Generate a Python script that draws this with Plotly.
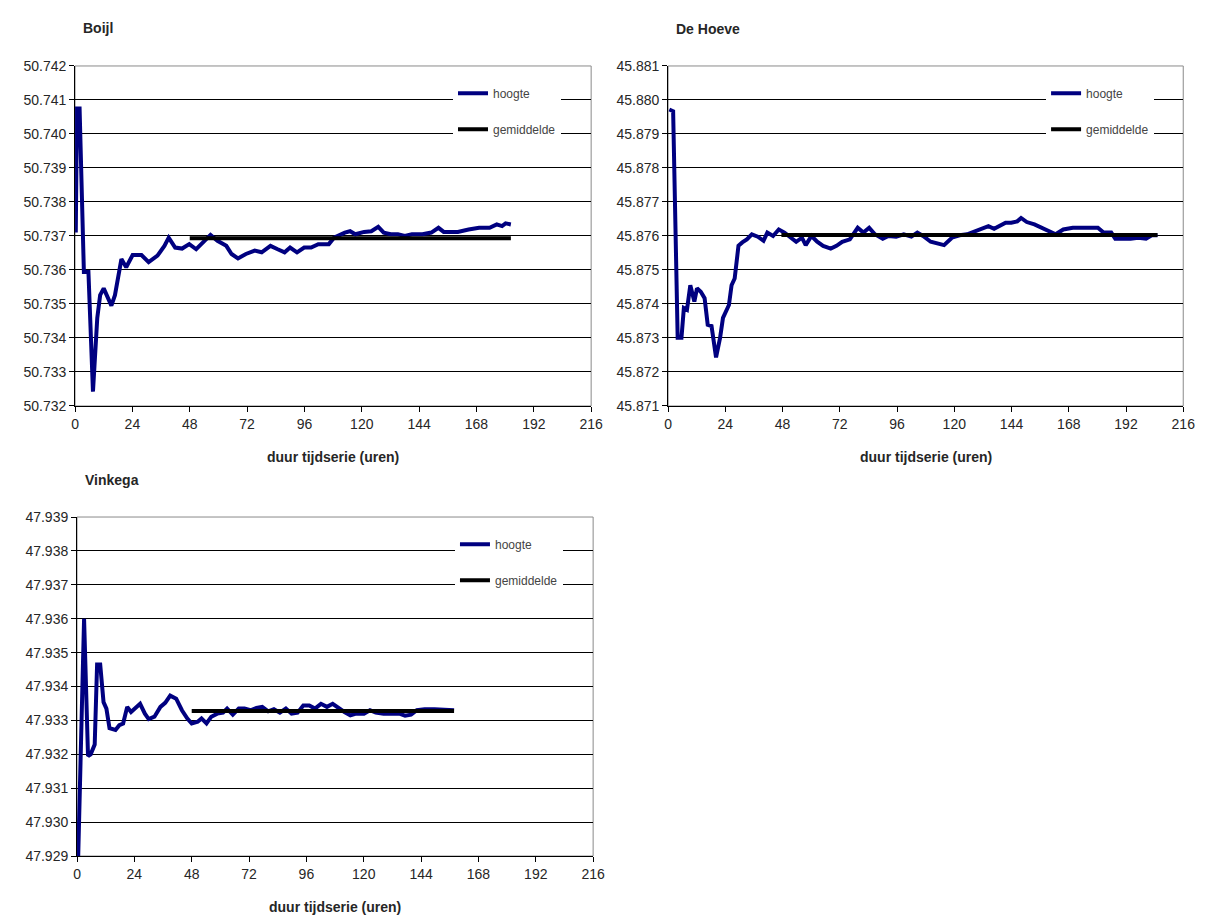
import plotly.graph_objects as go

# ---------------- data ----------------
boijl_hours = [0.3, 0.8, 1.9, 3.7, 5.6, 7.5, 9.3, 10.5, 12.0, 13.5, 15.2, 16.7, 19.4, 21.4, 24.1, 27.8,
               30.8, 34.5, 37.4, 39.2, 41.9, 44.8, 47.8, 50.7, 53.7, 56.7, 59.6, 63.3, 65.5, 68.2, 71.5,
               75.2, 78.1, 81.8, 84.8, 87.7, 90.0, 92.9, 95.9, 98.8, 101.8, 106.2, 108.4, 112.9, 115.1,
               117.3, 121.0, 124.0, 126.9, 129.2, 132.1, 135.1, 138.0, 141.0, 145.4, 149.1, 152.1, 154.3,
               157.3, 160.2, 164.7, 169.1, 173.5, 176.5, 178.7, 180.2, 182.4]
boijl_hoogte = [50.73710, 50.74075, 50.74075, 50.73594, 50.73594, 50.73242, 50.73459, 50.73526, 50.73546,
                50.73521, 50.73495, 50.73526, 50.73632, 50.73608, 50.73644, 50.73644, 50.73623, 50.73642,
                50.73671, 50.73695, 50.73666, 50.73663, 50.73676, 50.73661, 50.73681, 50.73703, 50.73686,
                50.73671, 50.73647, 50.73634, 50.73647, 50.73657, 50.73652, 50.73671, 50.73661, 50.73652,
                50.73666, 50.73652, 50.73666, 50.73666, 50.73676, 50.73676, 50.73695, 50.73710, 50.73714,
                50.73705, 50.73712, 50.73714, 50.73727, 50.73710, 50.73705, 50.73705, 50.73700, 50.73705,
                50.73705, 50.73710, 50.73724, 50.73712, 50.73712, 50.73712, 50.73719, 50.73724, 50.73724,
                50.73734, 50.73729, 50.73737, 50.73734]
boijl_mean_hours = [48.0, 182.4]
boijl_mean = [50.73693, 50.73693]

hoeve_hours = [0.5, 2.1, 4.0, 5.6, 6.6, 7.9, 9.3, 11.0, 12.1, 13.7, 15.3, 16.6, 18.2, 20.1, 21.8, 23.0,
               25.5, 26.6, 27.9, 29.5, 31.1, 33.0, 35.1, 37.6, 40.0, 41.6, 44.0, 46.4, 48.8, 51.3, 53.7,
               56.1, 57.7, 60.1, 62.5, 65.0, 68.2, 70.6, 73.0, 76.2, 79.5, 81.9, 84.3, 86.7, 90.0, 92.4,
               95.6, 98.8, 102.0, 104.5, 106.9, 110.1, 112.5, 115.7, 119.0, 122.2, 125.4, 128.6, 131.0,
               134.3, 136.7, 139.1, 141.5, 143.9, 146.4, 148.0, 150.4, 153.6, 156.8, 160.1, 162.5, 165.7,
               169.7, 174.6, 180.2, 182.6, 185.8, 187.5, 190.7, 193.9, 197.1, 200.4, 202.8, 205.2]
hoeve_hoogte = [45.87972, 45.87967, 45.87301, 45.87301, 45.87388, 45.87383, 45.87455, 45.87407, 45.87446,
                45.87436, 45.87417, 45.87339, 45.87335, 45.87243, 45.87301, 45.87359, 45.87397, 45.87455,
                45.87475, 45.87571, 45.87581, 45.87590, 45.87605, 45.87598, 45.87586, 45.87610, 45.87600,
                45.87619, 45.87610, 45.87598, 45.87583, 45.87595, 45.87573, 45.87600, 45.87583, 45.87571,
                45.87563, 45.87571, 45.87583, 45.87590, 45.87624, 45.87610, 45.87624, 45.87605, 45.87592,
                45.87600, 45.87598, 45.87605, 45.87598, 45.87610, 45.87600, 45.87583, 45.87579, 45.87573,
                45.87595, 45.87602, 45.87605, 45.87614, 45.87619, 45.87629, 45.87621, 45.87629, 45.87639,
                45.87639, 45.87643, 45.87653, 45.87641, 45.87634, 45.87624, 45.87614, 45.87605, 45.87619,
                45.87624, 45.87624, 45.87624, 45.87610, 45.87610, 45.87592, 45.87592, 45.87592, 45.87595,
                45.87592, 45.87602, 45.87602]
hoeve_mean_hours = [47.5, 205.2]
hoeve_mean = [45.87603, 45.87603]

vink_hours = [0.5, 2.95, 4.6, 5.7, 7.4, 8.4, 9.7, 11.1, 12.3, 13.6, 16.1, 17.7, 19.3, 21.0, 22.6, 24.3,
              26.4, 28.4, 30.0, 32.4, 34.9, 36.9, 39.0, 41.5, 43.9, 46.1, 48.0, 50.5, 52.1, 54.2, 56.2,
              58.7, 61.1, 62.8, 65.2, 67.7, 70.1, 72.6, 75.1, 77.5, 80.0, 82.4, 84.9, 87.4, 89.8, 92.3,
              94.7, 97.2, 99.6, 102.1, 104.6, 107.0, 109.5, 111.9, 114.4, 116.8, 120.1, 122.6, 125.0,
              128.3, 131.6, 134.9, 137.3, 139.8, 142.2, 145.5, 149.6, 153.7, 157.8]
vink_hoogte = [47.92900, 47.93600, 47.93195, 47.93200, 47.93229, 47.93465, 47.93465, 47.93354, 47.93335,
               47.93277, 47.93272, 47.93286, 47.93291, 47.93340, 47.93325, 47.93335, 47.93349, 47.93320,
               47.93304, 47.93311, 47.93340, 47.93352, 47.93373, 47.93364, 47.93330, 47.93306, 47.93291,
               47.93296, 47.93306, 47.93291, 47.93311, 47.93320, 47.93323, 47.93335, 47.93317, 47.93335,
               47.93335, 47.93330, 47.93337, 47.93340, 47.93327, 47.93333, 47.93323, 47.93335, 47.93320,
               47.93323, 47.93344, 47.93344, 47.93335, 47.93349, 47.93340, 47.93349, 47.93335, 47.93325,
               47.93315, 47.93320, 47.93320, 47.93330, 47.93323, 47.93320, 47.93320, 47.93320, 47.93314,
               47.93317, 47.93330, 47.93333, 47.93333, 47.93332, 47.93330]
vink_mean_hours = [48.0, 157.8]
vink_mean = [47.93328, 47.93328]

panel_titles = ["Boijl", "De Hoeve", "Vinkega"]
x_title = "duur tijdserie (uren)"
series_names = ["hoogte", "gemiddelde"]
x_ticks = [0, 24, 48, 72, 96, 120, 144, 168, 192, 216]
y_ranges = [(50.732, 50.742), (45.871, 45.881), (47.929, 47.939)]

# ---------------- layout geometry ----------------
W, H = 1213, 923
FONT = "Liberation Sans, Arial, sans-serif"
TXT = "#262626"
BLUE = "#000080"

panels = [
    dict(x0=72, x1=595, y0=59, y1=405, ty=20),
    dict(x0=673, x1=1195, y0=59, y1=405, ty=21),
    dict(x0=74, x1=597, y0=518, y1=863, ty=480),
]
data_sets = [
    (boijl_hours, boijl_hoogte, boijl_mean_hours, boijl_mean),
    (hoeve_hours, hoeve_hoogte, hoeve_mean_hours, hoeve_mean),
    (vink_hours, vink_hoogte, vink_mean_hours, vink_mean),
]

fig = go.Figure()
layout = dict(width=W, height=H, margin=dict(l=0, r=0, t=0, b=0),
              paper_bgcolor="white", plot_bgcolor="white",
              font=dict(family=FONT, color=TXT), showlegend=True)
shapes, annotations = [], []

for i, (p, ds, yr, title) in enumerate(zip(panels, data_sets, y_ranges, panel_titles)):
    n = "" if i == 0 else str(i + 1)
    xa, ya = "x" + n, "y" + n
    leg = "legend" + n
    hrs, val, mh, mv = ds
    fig.add_trace(go.Scatter(x=hrs, y=val, mode="lines", name=series_names[0],
                             line=dict(color=BLUE, width=4), xaxis=xa, yaxis=ya,
                             legend=leg, legendgroup="a" + n))
    fig.add_trace(go.Scatter(x=mh, y=mv, mode="lines", name=series_names[1],
                             line=dict(color="black", width=4), xaxis=xa, yaxis=ya,
                             legend=leg, legendgroup="b" + n))
    xdom = [p["x0"] / W, p["x1"] / W]
    ydom = [1 - p["y1"] / H, 1 - p["y0"] / H]
    layout["xaxis" + n] = dict(domain=xdom, range=[0, 216], tickvals=x_ticks, anchor=ya,
                               showgrid=False, zeroline=False, showline=True, linecolor="black",
                               linewidth=1, ticks="outside", ticklen=5, tickcolor="black",
                               tickfont=dict(size=14, family=FONT, color=TXT))
    layout["yaxis" + n] = dict(domain=ydom, range=list(yr), dtick=0.001, tick0=yr[0], anchor=xa,
                               tickformat=".3f", showgrid=True, gridcolor="black", gridwidth=1,
                               zeroline=False, showline=True, linecolor="black", linewidth=1,
                               ticks="outside", ticklen=5, tickcolor="black",
                               tickfont=dict(size=14, family=FONT, color=TXT))
    shapes.append(dict(type="rect", xref=xa + " domain", yref=ya + " domain", x0=0, x1=1, y0=0, y1=1,
                       line=dict(color="#8a8a8a", width=1), layer="below"))
    # legend inside top right
    layout[leg] = dict(x=(p["x0"] + 383) / W, y=1 - (p["y0"] + 13) / H, xanchor="left", yanchor="top",
                       bgcolor="white", borderwidth=0, itemwidth=30, tracegroupgap=17,
                       entrywidth=100, entrywidthmode="pixels",
                       font=dict(size=12, family=FONT, color="#444"))
    # panel title
    annotations.append(dict(text="<b>" + title + "</b>", xref="paper", yref="paper",
                            x=(p["x0"] + 6) / W, y=1 - p["ty"] / H, xanchor="left", yanchor="middle",
                            showarrow=False, font=dict(size=14, family=FONT, color=TXT)))
    # x-axis title
    annotations.append(dict(text="<b>" + x_title + "</b>", xref="paper", yref="paper",
                            x=(p["x0"] + p["x1"]) / 2 / W, y=1 - (p["y1"] + 52) / H,
                            xanchor="center", yanchor="middle", showarrow=False,
                            font=dict(size=14, family=FONT, color=TXT)))

layout["shapes"] = shapes
layout["annotations"] = annotations
fig.update_layout(**layout)
fig.write_html("out.html")
